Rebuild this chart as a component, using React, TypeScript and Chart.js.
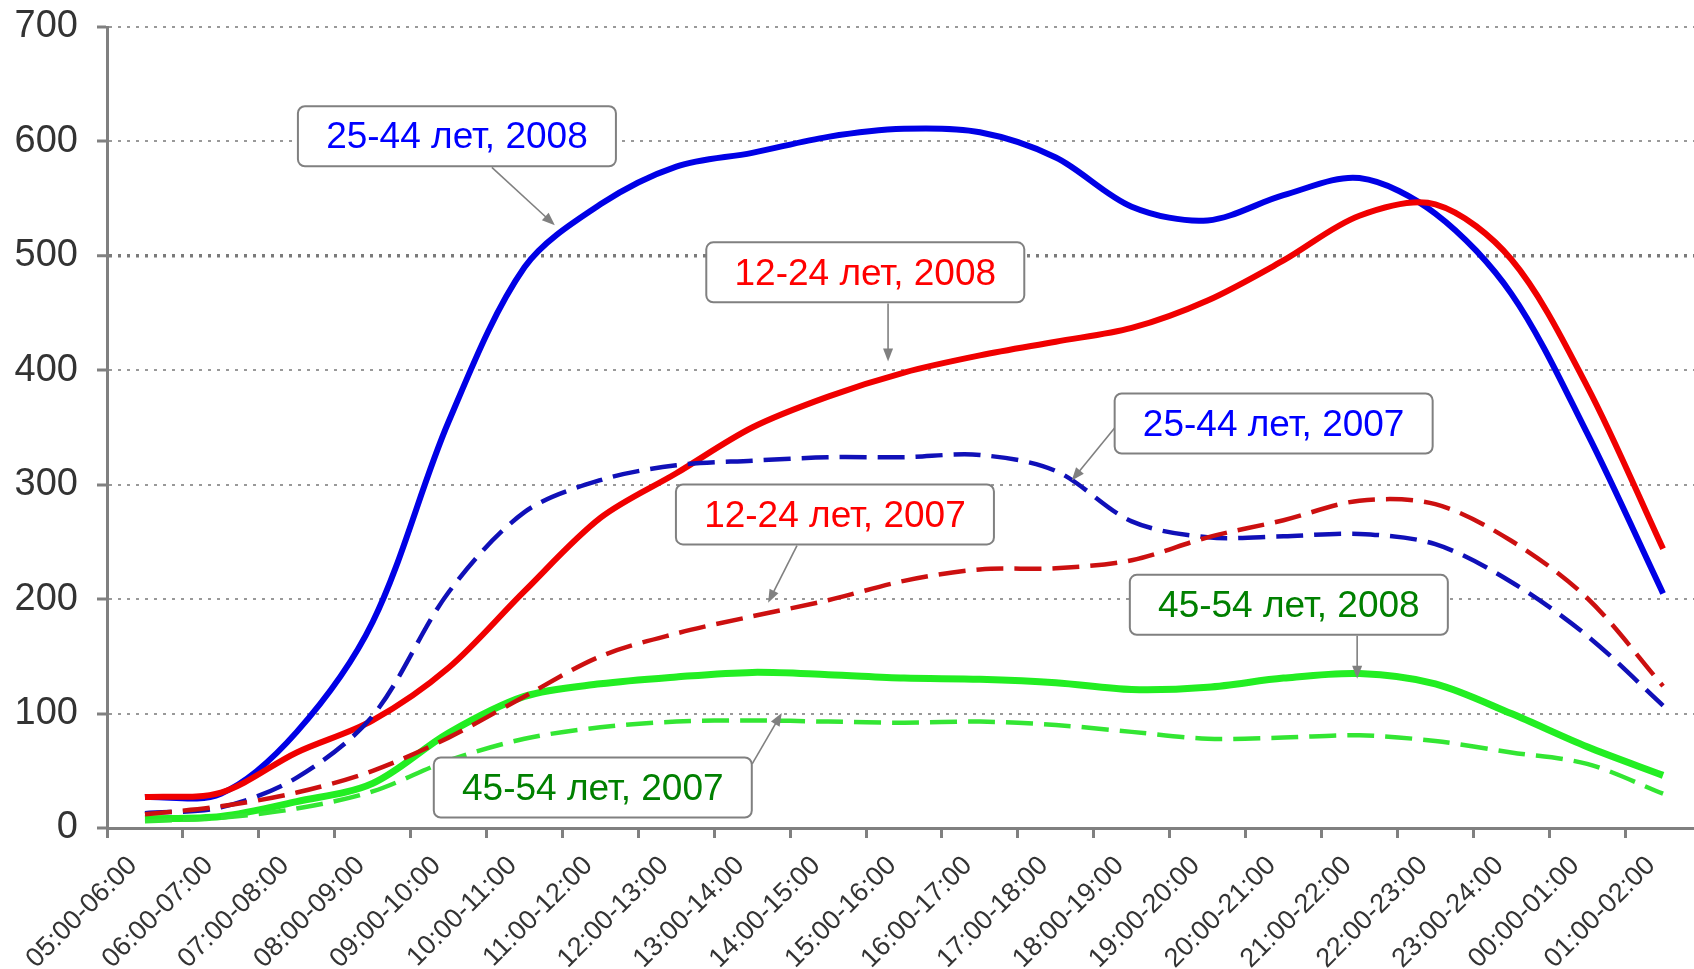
import React, { useEffect, useRef } from 'react';
import { Chart, registerables } from 'chart.js';

Chart.register(...registerables);

const categories = [
  '05:00-06:00', '06:00-07:00', '07:00-08:00', '08:00-09:00', '09:00-10:00',
  '10:00-11:00', '11:00-12:00', '12:00-13:00', '13:00-14:00', '14:00-15:00',
  '15:00-16:00', '16:00-17:00', '17:00-18:00', '18:00-19:00', '19:00-20:00',
  '20:00-21:00', '21:00-22:00', '22:00-23:00', '23:00-24:00', '00:00-01:00',
  '01:00-02:00',
];

const yMin = 0;
const yMax = 700;
const yStep = 100;

const blue2008 = [27, 30, 84, 180, 355, 490, 545, 578, 590, 604, 611, 608, 586, 543, 531, 553, 568, 537, 467, 345, 205];
const red2008 = [27, 31, 66, 94, 140, 207, 271, 310, 350, 377, 398, 413, 425, 437, 461, 496, 535, 545, 497, 386, 244];
const green2008 = [8, 10, 23, 39, 83, 115, 126, 132, 136, 134, 131, 130, 127, 121, 123, 131, 135, 126, 100, 71, 46];
const blue2007 = [13, 18, 44, 98, 206, 276, 304, 317, 321, 324, 324, 326, 312, 268, 254, 255, 257, 248, 215, 168, 107];
const red2007 = [12, 19, 31, 50, 79, 115, 150, 170, 185, 199, 216, 226, 227, 234, 254, 269, 286, 283, 251, 201, 124];
const green2007 = [6, 9, 17, 32, 59, 78, 88, 93, 94, 93, 92, 93, 90, 84, 78, 79, 81, 76, 66, 56, 30];

// annotation callouts: box centre and arrow in data space (category index, value)
const calloutTexts = ['25-44 лет, 2008', '12-24 лет, 2008', '25-44 лет, 2007', '12-24 лет, 2007', '45-54 лет, 2008', '45-54 лет, 2007'];
const calloutColors = ['#0000ff', '#ff0000', '#0000ff', '#ff0000', '#008000', '#008000'];
const calloutBoxAt = [[4.11, 604.5], [9.49, 485.6], [14.87, 353.5], [9.09, 274], [15.07, 195], [5.9, 35.4]];
const calloutArrowFrom = [[4.57, 577.4], [9.79, 458.4], [12.78, 350], [8.59, 246.7], [15.97, 168], [8.0, 56]];
const calloutArrowTo = [[5.4, 526.7], [9.79, 407.7], [12.21, 303.6], [8.21, 196.9], [15.97, 130.4], [8.39, 100.6]];

const FONT = '"Liberation Sans", Arial, Helvetica, sans-serif';

const calloutPlugin = {
  id: 'callouts',
  afterDatasetsDraw(chart: any) {
    const ctx = chart.ctx;
    const xs = chart.scales.x;
    const ys = chart.scales.y;
    const bw = 318;
    const bh = 60;
    ctx.save();
    for (let i = 0; i < calloutTexts.length; i++) {
      const x1 = xs.getPixelForValue(calloutArrowFrom[i][0]);
      const y1 = ys.getPixelForValue(calloutArrowFrom[i][1]);
      const x2 = xs.getPixelForValue(calloutArrowTo[i][0]);
      const y2 = ys.getPixelForValue(calloutArrowTo[i][1]);
      const ang = Math.atan2(y2 - y1, x2 - x1);
      const hl = 13;
      const hw = 5;
      ctx.strokeStyle = '#808080';
      ctx.fillStyle = '#808080';
      ctx.lineWidth = 1.6;
      ctx.setLineDash([]);
      ctx.beginPath();
      ctx.moveTo(x1, y1);
      ctx.lineTo(x2 - Math.cos(ang) * hl * 0.8, y2 - Math.sin(ang) * hl * 0.8);
      ctx.stroke();
      ctx.beginPath();
      ctx.moveTo(x2, y2);
      ctx.lineTo(x2 - Math.cos(ang) * hl - Math.sin(ang) * hw, y2 - Math.sin(ang) * hl + Math.cos(ang) * hw);
      ctx.lineTo(x2 - Math.cos(ang) * hl + Math.sin(ang) * hw, y2 - Math.sin(ang) * hl - Math.cos(ang) * hw);
      ctx.closePath();
      ctx.fill();

      const cx = xs.getPixelForValue(calloutBoxAt[i][0]);
      const cy = ys.getPixelForValue(calloutBoxAt[i][1]);
      const bx = cx - bw / 2;
      const by = cy - bh / 2;
      ctx.beginPath();
      if ((ctx as any).roundRect) {
        (ctx as any).roundRect(bx, by, bw, bh, 7);
      } else {
        ctx.rect(bx, by, bw, bh);
      }
      ctx.fillStyle = '#ffffff';
      ctx.fill();
      ctx.lineWidth = 2;
      ctx.strokeStyle = '#808080';
      ctx.stroke();

      ctx.fillStyle = calloutColors[i];
      ctx.font = `37px ${FONT}`;
      ctx.textAlign = 'center';
      ctx.textBaseline = 'middle';
      ctx.fillText(calloutTexts[i], cx, cy + 2);
    }
    ctx.restore();
  },
};

export default function App() {
  const canvasRef = useRef<HTMLCanvasElement | null>(null);

  useEffect(() => {
    const canvas = canvasRef.current;
    if (!canvas) return;
    const dash = [27, 11];
    const chart = new Chart(canvas, {
      type: 'line',
      data: {
        labels: categories,
        datasets: [
          { label: '45-54 лет, 2007', data: green2007, borderColor: '#33e633', borderWidth: 4.5, borderDash: dash },
          { label: '12-24 лет, 2007', data: red2007, borderColor: '#cc1010', borderWidth: 4.5, borderDash: dash },
          { label: '25-44 лет, 2007', data: blue2007, borderColor: '#1010b8', borderWidth: 4.5, borderDash: dash },
          { label: '45-54 лет, 2008', data: green2008, borderColor: '#22ee22', borderWidth: 7 },
          { label: '12-24 лет, 2008', data: red2008, borderColor: '#f00000', borderWidth: 6 },
          { label: '25-44 лет, 2008', data: blue2008, borderColor: '#0000e6', borderWidth: 6 },
        ],
      },
      options: {
        responsive: false,
        animation: false,
        events: [],
        layout: { padding: { top: 27, left: 0, right: 1, bottom: 0 } },
        elements: {
          point: { radius: 0 },
          line: { tension: 0.32, fill: false, borderCapStyle: 'butt' },
        },
        plugins: {
          legend: { display: false },
          tooltip: { enabled: false },
          title: { display: false },
        },
        scales: {
          x: {
            type: 'category',
            offset: true,
            afterFit: (scale: any) => { scale.height = 141; scale.paddingTop = 0; scale.paddingBottom = 0; },
            grid: {
              display: true,
              drawOnChartArea: false,
              drawTicks: true,
              offset: true,
              tickLength: 10,
              tickColor: '#808080',
              tickWidth: 3,
            },
            border: { display: true, color: '#808080', width: 3 },
            ticks: {
              autoSkip: false,
              maxRotation: 45,
              minRotation: 45,
              padding: 12,
              labelOffset: -12,
              color: '#333333',
              font: { family: FONT, size: 27 },
            },
          },
          y: {
            min: yMin,
            max: yMax,
            afterFit: (scale: any) => { scale.width = 107; scale.paddingTop = 0; scale.paddingBottom = 0; },
            ticks: {
              stepSize: yStep,
              padding: 19,
              color: '#333333',
              font: { family: FONT, size: 38 },
            },
            grid: {
              color: (c: any) => (c.tick && c.tick.value === 500 ? '#7a7a7a' : '#999999'),
              lineWidth: (c: any) => (c.tick && c.tick.value === 500 ? 3.5 : 2),
              drawTicks: true,
              tickLength: 10,
              tickColor: '#808080',
              tickWidth: 3,
            },
            border: { display: true, color: '#808080', width: 3, dash: [3, 6] },
          },
        },
      },
      plugins: [calloutPlugin],
    } as any);
    return () => chart.destroy();
  }, []);

  return (
    <div style={{ position: 'fixed', left: 0, top: 0, width: 1694, height: 969, overflow: 'hidden', background: '#ffffff' }}>
      <canvas ref={canvasRef} width={1702} height={969} style={{ display: 'block', width: 1702, height: 969 }} />
    </div>
  );
}
